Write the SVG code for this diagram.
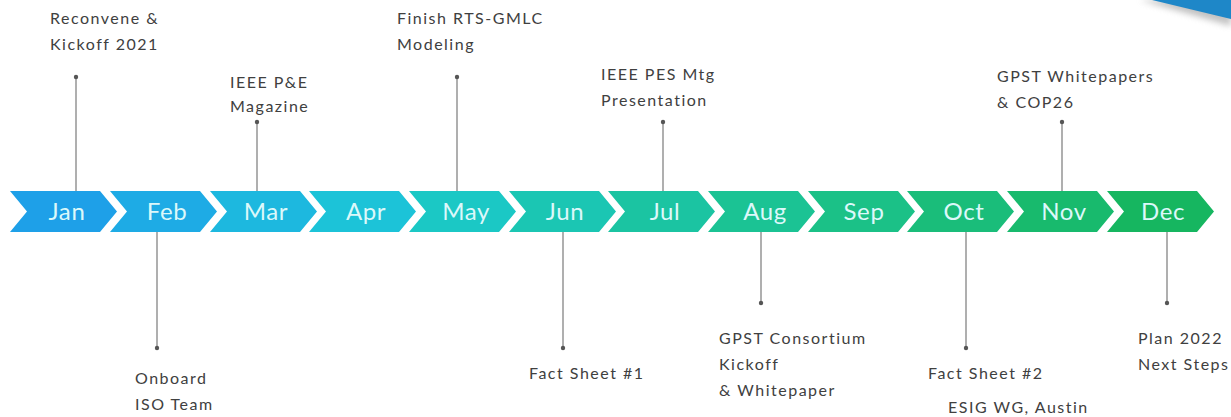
<svg xmlns="http://www.w3.org/2000/svg" width="1231" height="417" viewBox="0 0 1231 417">
<defs>
<style>
.lbl{font-family:Lato,"Open Sans","Liberation Sans",sans-serif;font-size:16px;letter-spacing:1.5px;fill:#404040}
.mon{font-family:Lato,"Open Sans","Liberation Sans",sans-serif;font-size:24px;letter-spacing:0.6px;fill:#dcf8fa;text-anchor:middle}
.ln{stroke:#7a7a7a;stroke-width:1.2;fill:none}
.dot{fill:#555}
</style>
<filter id="sh" x="-20%" y="-50%" width="140%" height="300%"><feGaussianBlur stdDeviation="3"/></filter>
<polygon id="chev" points="0,191 90,191 107,211.5 90,232 0,232 17,211.5"/>
</defs>
<rect width="1231" height="417" fill="#fff"/>
<g id="corner">
<polygon points="1140,0 1231,0 1231,26" fill="#999" opacity="0.6" filter="url(#sh)"/>
<polygon points="1152,0 1231,0 1231,19" fill="#1E87C8"/>
</g>
<g id="connectors">
<line class="ln" x1="76" y1="77" x2="76" y2="191"/><circle class="dot" cx="76" cy="77" r="2.2"/>
<line class="ln" x1="257" y1="122" x2="257" y2="191"/><circle class="dot" cx="257" cy="122" r="2.2"/>
<line class="ln" x1="457" y1="77" x2="457" y2="191"/><circle class="dot" cx="457" cy="77" r="2.2"/>
<line class="ln" x1="663" y1="122" x2="663" y2="191"/><circle class="dot" cx="663" cy="122" r="2.2"/>
<line class="ln" x1="1062" y1="122" x2="1062" y2="191"/><circle class="dot" cx="1062" cy="122" r="2.2"/>
<line class="ln" x1="157" y1="232" x2="157" y2="348"/><circle class="dot" cx="157" cy="348" r="2.2"/>
<line class="ln" x1="563" y1="232" x2="563" y2="348"/><circle class="dot" cx="563" cy="348" r="2.2"/>
<line class="ln" x1="761" y1="232" x2="761" y2="303"/><circle class="dot" cx="761" cy="303" r="2.2"/>
<line class="ln" x1="966" y1="232" x2="966" y2="348"/><circle class="dot" cx="966" cy="348" r="2.2"/>
<line class="ln" x1="1167" y1="232" x2="1167" y2="303"/><circle class="dot" cx="1167" cy="303" r="2.2"/>
</g>
<g id="jan"><use href="#chev" x="10" fill="#1EA0E8"/><text class="mon" x="67" y="220">Jan</text></g>
<g id="feb"><use href="#chev" x="110" fill="#1EABE5"/><text class="mon" x="167" y="220">Feb</text></g>
<g id="mar"><use href="#chev" x="210" fill="#1DB8DF"/><text class="mon" x="266" y="220">Mar</text></g>
<g id="apr"><use href="#chev" x="309" fill="#1CC3D8"/><text class="mon" x="366" y="220">Apr</text></g>
<g id="may"><use href="#chev" x="409" fill="#1BC8C5"/><text class="mon" x="466" y="220">May</text></g>
<g id="jun"><use href="#chev" x="509" fill="#1BC6B3"/><text class="mon" x="565" y="220">Jun</text></g>
<g id="jul"><use href="#chev" x="608" fill="#1BC4A2"/><text class="mon" x="665" y="220">Jul</text></g>
<g id="aug"><use href="#chev" x="708" fill="#1BC394"/><text class="mon" x="765" y="220">Aug</text></g>
<g id="sep"><use href="#chev" x="808" fill="#1BC187"/><text class="mon" x="864" y="220">Sep</text></g>
<g id="oct"><use href="#chev" x="907" fill="#1ABD7A"/><text class="mon" x="964" y="220">Oct</text></g>
<g id="nov"><use href="#chev" x="1007" fill="#18BA6D"/><text class="mon" x="1064" y="220">Nov</text></g>
<g id="dec"><use href="#chev" x="1107" fill="#16B660"/><text class="mon" x="1163" y="220">Dec</text></g>
<g id="n-reconvene"><text class="lbl" x="50" y="24">Reconvene &amp;</text><text class="lbl" x="50" y="50">Kickoff 2021</text></g>
<g id="n-ieee-pe"><text class="lbl" x="230" y="88">IEEE P&amp;E</text><text class="lbl" x="230" y="112">Magazine</text></g>
<g id="n-finish"><text class="lbl" x="397" y="24">Finish RTS-GMLC</text><text class="lbl" x="397" y="50">Modeling</text></g>
<g id="n-ieee-pes"><text class="lbl" x="601" y="80">IEEE PES Mtg</text><text class="lbl" x="601" y="106">Presentation</text></g>
<g id="n-gpst-wp"><text class="lbl" x="997" y="82">GPST Whitepapers</text><text class="lbl" x="997" y="108">&amp; COP26</text></g>
<g id="n-onboard"><text class="lbl" x="135" y="384">Onboard</text><text class="lbl" x="135" y="410">ISO Team</text></g>
<g id="n-fact1"><text class="lbl" x="529" y="379">Fact Sheet #1</text></g>
<g id="n-gpst-cons"><text class="lbl" x="719" y="344">GPST Consortium</text><text class="lbl" x="719" y="370">Kickoff</text><text class="lbl" x="719" y="396">&amp; Whitepaper</text></g>
<g id="n-fact2"><text class="lbl" x="928" y="379">Fact Sheet #2</text><text class="lbl" x="948" y="413">ESIG WG, Austin</text></g>
<g id="n-plan"><text class="lbl" x="1138" y="344">Plan 2022</text><text class="lbl" x="1138" y="370">Next Steps</text></g>
</svg>
